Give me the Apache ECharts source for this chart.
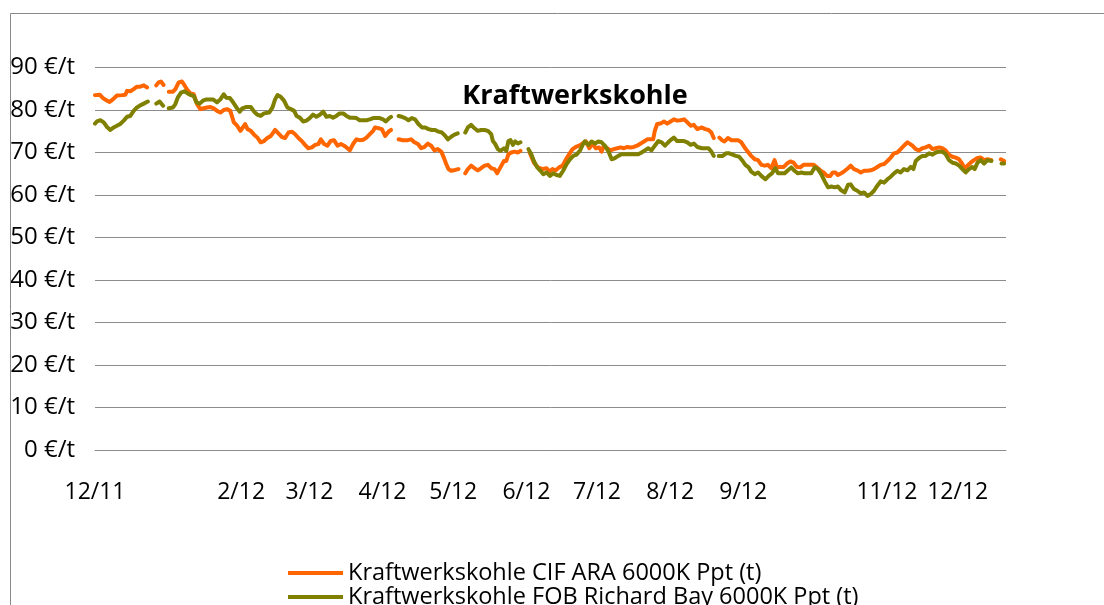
<!DOCTYPE html>
<html>
<head>
<meta charset="utf-8">
<script src="https://cdn.jsdelivr.net/npm/echarts@6/dist/echarts.min.js"></script>
<style>
html,body{margin:0;padding:0;background:#fff;}
#chart{width:1104px;height:605px;}
</style>
</head>
<body>
<div id="chart"></div>
<script>
// x values: days since 2011-12-01; null = gap in the series
var cifPoints = [[0,83.5],[0.8,83.3],[2.0,83.6],[3.4,82.8],[4.8,82.3],[6.2,81.9],[7.6,82.5],[9.3,83.4],[11.5,83.5],[12.9,83.6],[13.6,84.5],[15.0,84.4],[16.4,84.9],[17.8,85.5],[19.2,85.5],[20.7,85.8],[22.1,85.3],[24,null],[26.0,85.8],[27.0,86.5],[28.0,86.7],[29.1,85.9],[30.2,null],[31.3,84.3],[33.1,84.3],[34.1,84.9],[35.5,86.5],[36.9,86.7],[37.9,85.9],[39.0,84.9],[40.5,83.9],[41.9,83.7],[43.3,81.4],[44.7,80.2],[46.1,80.4],[47.5,80.6],[49.0,80.7],[50.4,80.4],[51.8,79.8],[53.2,79.4],[54.6,80.0],[56.0,80.2],[57.4,79.8],[58.9,77.1],[60.3,76.3],[61.7,75.1],[63.7,76.7],[64.7,75.5],[66.1,75.1],[67.5,74.2],[68.9,73.5],[70.3,72.4],[71.7,72.7],[73.1,73.4],[74.6,73.9],[76.4,75.3],[77.8,74.5],[79.2,73.7],[80.6,73.4],[82.1,74.7],[83.5,74.9],[84.9,74.3],[86.3,73.4],[87.7,72.7],[89.1,71.8],[90.5,71.0],[92.0,71.2],[93.4,71.8],[94.8,72.0],[95.8,73.1],[97.2,72.0],[98.6,71.6],[100.0,72.7],[101.4,72.9],[102.9,71.6],[104.3,72.0],[105.7,71.6],[107.1,71.0],[108.1,70.5],[109.5,72.0],[110.9,73.1],[112.3,72.9],[113.8,73.0],[115.2,73.5],[116.6,74.3],[118.0,75.1],[118.8,75.9],[120.3,75.7],[121.7,75.5],[123.1,73.9],[124.5,74.9],[125.6,75.3],[127,null],[128.8,73.1],[130.6,72.9],[132.7,72.9],[134.1,73.1],[135.5,72.4],[137.0,72.0],[138.4,71.0],[139.8,71.3],[141.2,72.1],[142.6,71.6],[144.0,70.5],[145.4,70.8],[146.9,70.2],[148.0,68.8],[149.0,67.3],[150.0,66.1],[151.1,65.7],[152.8,65.9],[154.2,66.1],[155.6,null],[157.1,65.1],[158.2,66.1],[159.6,66.9],[161.0,66.3],[162.4,65.8],[163.8,66.3],[165.3,66.9],[166.7,67.1],[168.1,66.3],[169.5,66.1],[170.6,65.1],[172.0,66.5],[173.5,68.0],[174.5,68.0],[175.4,69.6],[176.6,70.0],[178.0,70.2],[179.4,70.0],[180.5,70.4],[182.2,null],[184.4,70.0],[186.2,67.6],[187.9,66.5],[190.0,66.1],[191.6,66.3],[192.7,65.5],[194.1,66.1],[195.5,65.8],[196.9,66.5],[198.4,66.9],[199.8,68.4],[201.2,69.6],[202.6,70.8],[204.0,71.3],[205.4,71.6],[206.8,72.1],[208.3,72.6],[209.7,71.0],[211.1,72.1],[212.5,71.0],[213.9,71.2],[214.9,70.2],[215.9,71.6],[217.3,71.0],[218.7,70.5],[220.1,70.8],[221.6,71.0],[223.0,71.2],[224.4,71.0],[225.8,71.3],[227.2,71.2],[228.6,71.3],[230.0,71.6],[231.5,72.1],[232.9,72.6],[234.3,73.1],[235.7,73.1],[236.8,73.1],[237.5,75.1],[238.5,76.7],[239.9,76.8],[241.4,77.3],[242.8,76.8],[244.2,77.3],[245.6,77.8],[247.0,77.5],[248.4,77.6],[249.9,77.8],[251.3,77.1],[252.7,76.3],[254.1,76.5],[255.5,75.5],[257.5,75.9],[258.9,75.5],[260.3,75.3],[261.5,74.7],[262.5,73.4],[263.7,null],[264.9,73.5],[266.0,72.9],[267.1,72.6],[268.5,73.4],[270.0,72.9],[271.4,72.9],[272.8,72.9],[274.2,72.4],[275.6,71.2],[277.0,70.2],[278.4,69.2],[279.9,68.4],[281.3,68.2],[282.7,67.1],[284.1,66.9],[285.5,67.1],[286.9,66.3],[288.3,68.2],[289.3,66.5],[290.7,66.6],[292.2,66.6],[293.6,67.4],[295.0,67.9],[296.4,67.6],[297.8,66.6],[299.2,66.5],[300.6,67.1],[302.1,67.1],[303.5,67.1],[304.9,67.1],[306.3,66.5],[307.7,65.8],[309.1,65.3],[310.6,64.5],[312.0,64.5],[313.0,65.3],[314.1,65.3],[315.2,64.7],[316.6,65.1],[318.1,65.7],[319.5,66.3],[320.6,66.9],[322.0,66.1],[323.4,65.8],[324.9,65.3],[326.3,65.7],[327.7,65.7],[329.1,65.8],[330.5,66.1],[331.9,66.6],[333.3,67.1],[334.8,67.3],[336.2,68.0],[337.6,68.8],[339.0,69.8],[340.4,70.0],[341.8,70.8],[343.2,71.6],[344.7,72.4],[345.5,72.6],[346.8,71.6],[348.2,70.8],[349.6,70.5],[351.0,71.0],[352.4,71.2],[353.9,71.6],[355.3,70.8],[356.7,71.0],[358.1,71.2],[359.5,71.0],[360.9,70.5],[362.3,69.5],[363.8,69.0],[365.2,68.8],[366.6,68.4],[368.0,67.3],[369.0,66.1],[370.1,66.9],[371.5,67.6],[372.9,68.2],[374.4,68.7],[375.8,68.8],[377.2,68.2],[378.6,68.4],[380.3,68.2],[382.3,null],[384.3,68.4],[385.7,68.0]];

var fobPoints = [[0,76.8],[0.8,77.3],[2.3,77.6],[3.7,77.1],[5.1,76.0],[6.5,75.3],[7.9,75.9],[9.3,76.3],[10.7,76.7],[12.2,77.5],[13.6,78.4],[15.0,78.6],[16.4,79.8],[17.8,80.6],[19.2,81.1],[20.7,81.5],[22.4,82.0],[24,null],[26.0,81.5],[27.4,82.0],[28.9,81.0],[30.2,null],[31.3,80.4],[33.1,80.6],[34.1,81.4],[35.1,82.9],[36.5,84.1],[37.9,84.4],[39.3,83.9],[40.7,83.5],[41.9,83.3],[43.0,81.8],[44.4,81.5],[45.8,82.2],[47.3,82.5],[48.7,82.5],[50.1,82.5],[51.8,81.8],[53.2,82.5],[54.6,83.7],[55.7,82.9],[57.2,82.8],[58.6,81.8],[60.0,80.6],[61.4,79.6],[62.5,80.4],[64.0,80.7],[66.1,80.7],[67.5,79.6],[68.9,78.9],[70.3,78.6],[71.7,79.2],[72.4,79.6],[73.9,79.4],[75.3,80.6],[76.4,82.5],[77.4,83.5],[78.8,83.1],[80.2,82.2],[81.6,80.6],[83.1,80.2],[84.5,79.8],[85.5,78.6],[86.9,78.2],[88.3,77.3],[89.7,77.5],[91.1,78.1],[92.5,78.9],[93.9,78.4],[95.4,78.9],[96.8,79.6],[98.2,78.4],[99.6,78.6],[101.0,78.2],[102.4,78.6],[103.8,79.2],[105.3,79.2],[106.7,78.6],[108.1,78.2],[109.5,78.2],[110.9,78.1],[112.3,77.6],[113.8,77.6],[115.2,77.6],[116.6,77.8],[118.0,78.1],[119.4,78.1],[120.8,78.1],[122.2,77.8],[123.4,77.3],[124.8,78.1],[125.6,78.4],[127,null],[128.8,78.6],[130.2,78.4],[131.6,78.1],[133.0,77.6],[134.4,78.1],[135.8,77.8],[137.2,76.7],[138.7,75.9],[140.1,75.9],[141.5,75.5],[142.9,75.3],[144.3,75.3],[145.7,74.9],[147.2,74.7],[148.6,73.9],[149.7,73.1],[151.1,73.7],[152.5,74.2],[153.9,74.5],[155.6,null],[157.1,74.7],[158.2,75.9],[159.6,76.5],[161.0,75.7],[162.4,75.1],[163.8,75.3],[165.3,75.3],[166.7,75.1],[168.1,74.3],[168.8,72.7],[169.8,72.0],[170.9,70.8],[172.0,70.4],[173.5,71.0],[174.5,70.4],[175.4,72.7],[176.3,72.9],[177.3,71.8],[178.3,72.6],[179.4,72.1],[180.5,72.4],[182.2,null],[183.9,70.8],[185.1,69.6],[186.2,68.0],[187.6,66.5],[189.0,65.7],[190.2,64.9],[191.6,65.3],[193.0,64.5],[194.4,65.1],[195.8,64.7],[197.2,64.5],[198.6,65.7],[200.1,67.3],[201.5,68.4],[202.9,69.2],[204.3,69.5],[205.7,70.4],[207.1,72.0],[207.8,72.6],[209.3,71.8],[210.7,72.6],[212.1,72.1],[213.5,72.6],[214.9,72.4],[216.3,71.6],[217.7,70.4],[219.2,68.4],[220.6,68.7],[222.0,69.2],[223.4,69.6],[224.8,69.6],[226.2,69.6],[227.6,69.6],[229.1,69.6],[230.5,69.6],[231.9,70.0],[233.3,70.5],[234.7,71.0],[236.1,70.5],[237.5,71.6],[239.0,72.7],[240.4,72.4],[241.8,71.6],[243.2,72.4],[244.6,73.1],[245.6,73.5],[247.0,72.7],[248.4,72.7],[249.9,72.7],[251.3,72.4],[252.7,71.8],[254.1,72.1],[255.5,71.3],[257.5,71.0],[258.9,71.0],[260.3,71.0],[261.5,70.2],[262.5,69.2],[263.5,null],[264.6,69.2],[266.3,69.2],[267.7,69.8],[269.1,69.8],[270.5,69.5],[271.9,69.2],[273.3,69.0],[274.8,68.0],[275.9,67.1],[277.3,66.5],[278.4,65.5],[279.9,64.9],[281.3,65.3],[282.7,64.5],[284.4,63.7],[285.8,64.5],[287.2,65.1],[288.6,66.3],[289.8,65.1],[291.2,65.1],[292.6,65.1],[294.0,65.8],[295.4,66.5],[296.8,65.7],[298.2,65.1],[299.7,65.3],[301.1,65.1],[302.5,65.1],[303.9,65.1],[305.3,66.5],[306.7,66.1],[308.1,64.9],[309.6,63.2],[311.0,61.8],[312.4,62.0],[313.8,61.8],[315.2,62.0],[316.6,61.1],[318.1,60.6],[319.5,62.4],[320.6,62.5],[322.0,61.4],[323.4,61.0],[324.9,60.4],[326.3,60.6],[327.7,59.8],[329.1,60.2],[330.5,61.0],[331.9,62.2],[333.3,63.2],[334.8,62.9],[336.2,63.7],[337.6,64.3],[339.0,65.1],[340.4,65.7],[341.8,65.3],[343.2,66.1],[344.7,65.8],[346.1,66.6],[347.2,66.1],[348.2,68.0],[349.6,68.7],[351.0,69.2],[352.4,69.2],[353.9,69.8],[355.3,69.5],[356.7,70.0],[358.1,70.2],[359.5,70.2],[360.9,69.6],[362.3,68.2],[363.8,67.6],[365.2,67.4],[366.6,66.9],[368.0,66.1],[369.4,65.3],[370.8,66.1],[372.2,66.6],[373.2,66.1],[374.4,67.6],[375.8,68.2],[377.2,67.4],[378.6,68.2],[380.3,68.0],[382.3,null],[384.6,67.4],[385.7,67.4]];

var tickDays = [0, 62, 91, 122, 152, 183, 213, 244, 275, 336, 366];
var tickLabels = ['12/11', '2/12', '3/12', '4/12', '5/12', '6/12', '7/12', '8/12', '9/12', '11/12', '12/12'];
var seriesNames = ['Kraftwerkskohle CIF ARA 6000K Ppt (t)', 'Kraftwerkskohle FOB Richard Bay 6000K Ppt (t)'];
var chartTitle = 'Kraftwerkskohle';

function toData(points) {
  return points.map(function (p) { return [p[0], p[1] === null ? '-' : p[1]]; });
}
var labelMap = {};
tickDays.forEach(function (d, i) { labelMap[d] = tickLabels[i]; });

var FONT = '"Open Sans", "Noto Sans", sans-serif';
var legendBase = {
  orient: 'vertical', left: 288, padding: 0, itemGap: 0,
  icon: 'rect', itemWidth: 55, itemHeight: 4,
  textStyle: {color: '#000', fontSize: 23.5, fontFamily: FONT, lineHeight: 24}
};
var chart = echarts.init(document.getElementById('chart'), null, {renderer: 'canvas'});
chart.setOption({
  animation: false,
  backgroundColor: '#ffffff',
  textStyle: {fontFamily: FONT},
  grid: {left: 95, right: 98, top: 67.5, bottom: 155, containLabel: false},
  xAxis: {
    type: 'value', min: 0, max: 386.5,
    splitLine: {show: false},
    axisTick: {show: false},
    axisLine: {show: true, lineStyle: {color: '#8c8c8c', width: 1}},
    axisLabel: {
      customValues: tickDays,
      formatter: function (v) { return labelMap[v] !== undefined ? labelMap[v] : ''; },
      color: '#000', fontSize: 23, fontFamily: FONT, margin: 31,
      showMinLabel: true, showMaxLabel: true, hideOverlap: false
    }
  },
  yAxis: {
    type: 'value', min: 0, max: 90, interval: 10,
    axisLine: {show: false},
    axisTick: {show: false},
    splitLine: {show: true, lineStyle: {color: '#8c8c8c', width: 1}},
    axisLabel: {
      formatter: function (v) { return v + ' €/t'; },
      color: '#000', fontSize: 24, fontFamily: FONT, margin: 20
    }
  },
  legend: [
    Object.assign({}, legendBase, {top: 561, data: [seriesNames[0]]}),
    Object.assign({}, legendBase, {top: 585, data: [seriesNames[1]]})
  ],
  graphic: [
    {type: 'rect', silent: true, z: 100,
     shape: {x: 10.5, y: 13.5, width: 1300, height: 800},
     style: {fill: 'none', stroke: '#888888', lineWidth: 1}},
    {type: 'text', silent: true, x: 575, y: 96,
     style: {text: chartTitle, fill: '#000', font: 'bold 27px ' + FONT, align: 'center', verticalAlign: 'middle'}}
  ],
  series: [
    {name: seriesNames[0], type: 'line', data: toData(cifPoints), showSymbol: false, connectNulls: false,
     color: '#FF6600', lineStyle: {color: '#FF6600', width: 4, join: 'round', cap: 'round'}},
    {name: seriesNames[1], type: 'line', data: toData(fobPoints), showSymbol: false, connectNulls: false,
     color: '#808000', lineStyle: {color: '#808000', width: 4, join: 'round', cap: 'round'}}
  ]
});
</script>
</body>
</html>
